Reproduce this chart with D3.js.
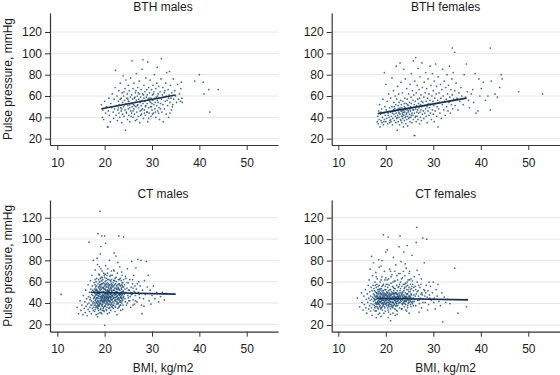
<!DOCTYPE html>
<html><head><meta charset="utf-8">
<script src="https://cdn.jsdelivr.net/npm/d3@7"></script>
<style>
html,body{margin:0;padding:0;background:#fff;}
svg{display:block;font-family:"Liberation Sans",Arial,Helvetica,sans-serif;}
</style></head>
<body><svg id="chart" width="560" height="375"></svg>
<script>
const panelTitles = ["BTH males", "BTH females", "CT males", "CT females"];
const xTicks = [10, 20, 30, 40, 50];
const yTicks = [20, 40, 60, 80, 100, 120];
const xTitle = "BMI, kg/m2";
const yTitle = "Pulse pressure, mmHg";

const bthMales = [
[19.3,52],[19.5,40],[19.6,47],[19.8,38],[20.0,55],[20.2,44],[20.4,50],[20.6,31],[20.8,46],[20.9,58],[21.0,42],[21.2,36],[21.3,53],[21.5,49],[21.6,62],[21.8,45],[21.9,39],[22.0,57],[22.1,48],[22.2,68],
[22.3,84],[22.4,42],[22.5,51],[22.6,60],[22.7,37],[22.8,47],[22.9,55],[23.0,65],[23.0,44],[23.1,52],[23.2,40],[23.3,72],[23.4,49],[23.5,58],[23.5,46],[23.6,35],[23.7,63],[23.8,54],[23.8,43],[23.9,79],[24.0,50],[24.0,60],[24.1,41],[24.2,56],[24.3,67],[24.3,47],[24.4,28],[24.5,53],[24.5,75],[24.6,45],[24.7,58],[24.8,38],[24.8,62],[24.9,51],[25.0,70],[25.0,48],[25.1,55],[25.1,42],[25.2,65],[25.3,52],[25.3,36],[25.4,59],[25.5,46],[25.5,77],[25.6,53],
[25.7,61],[25.7,44],[25.8,93],[25.8,50],[25.9,57],[26.0,40],[26.0,67],[26.1,52],[26.2,48],[26.2,72],[26.3,58],[26.3,43],[26.4,54],[26.5,63],[26.5,37],[26.6,50],[26.7,81],[26.7,56],[26.8,45],[26.9,60],[27.0,52],[27.0,68],[27.1,41],[27.2,57],[27.2,49],[27.3,74],[27.3,62],[27.4,35],[27.5,54],[27.5,46],[27.6,59],[27.7,66],[27.7,51],[27.8,43],[27.9,85],[27.9,56],[28.0,48],[28.0,62],[28.1,94],[28.1,53],[28.2,39],[28.3,58],[28.3,70],[28.4,47],[28.5,55],[28.5,64],[28.6,42],[28.7,51],[28.7,77],[28.8,59],[28.9,45],[29.0,61],[29.0,53],[29.1,92],[29.1,36],
[29.2,57],[29.3,49],[29.3,68],[29.4,44],[29.5,55],[29.5,63],[29.6,75],[29.7,50],[29.8,58],[29.8,41],[29.9,66],[30.0,53],[30.0,47],[30.1,61],[30.2,70],[30.2,56],[30.3,44],[30.4,52],[30.4,64],[30.5,80],[30.6,58],[30.6,48],[30.7,54],[30.8,67],[30.8,40],[30.9,59],[31.0,51],[31.0,72],[31.1,87],[31.1,56],[31.2,46],[31.3,62],[31.3,54],[31.4,69],[31.5,49],[31.5,58],[31.6,38],[31.7,64],[31.8,53],[31.9,76],[32.0,57],[32.0,95],[32.1,45],[32.2,61],[32.3,52],[32.3,68],[32.4,36],[32.5,59],[32.6,48],[32.7,65],[32.8,55],[32.9,72],[33.0,60],[33.0,43],[33.1,82],
[33.2,56],[33.3,51],[33.4,66],[33.5,40],[33.6,61],[33.7,83],[33.8,54],[33.9,70],[34.0,58],[34.1,47],[34.2,63],[34.4,52],[34.5,76],[34.6,57],[34.8,65],[35.0,60],[35.2,54],[35.4,71],[35.6,57],[35.8,62],[36.0,55],[36.1,67],[36.2,73],[36.3,58],[36.4,54],
[39.0,74],[40.0,80],[40.8,73],[41.0,62],[42.0,66],[44.0,66],[42.2,45],[20.7,31],
[23.6,48],[24.2,52],[24.6,44],[25.0,55],[25.3,49],[25.8,53],[26.0,46],[26.4,59],[26.9,51],[27.4,55],[27.8,47],[28.2,61],[28.6,50],[29.0,45],[29.4,58],[29.9,50],[30.3,62],[30.7,45],[31.2,60],[31.8,48],[24.9,57],[25.6,41],[26.6,65],[27.6,42],[28.9,66],[30.1,43],[22.9,49],[23.3,57],[26.3,51],[27.1,63],[28.4,44],[29.7,54],[31.4,44],[32.6,63],[33.5,58],[34.3,50],[24.1,64],[26.8,38],[29.3,39],[33.8,44]
];

const bthFemales = [
[18.2,36],[18.3,41],[18.4,34],[18.5,46],[18.6,38],[18.7,52],[18.8,31],[18.9,43],[19.0,37],[19.1,48],[19.2,35],[19.3,40],[19.4,57],[19.5,33],[19.6,44],[19.7,82],[19.7,38],[19.8,50],[19.9,42],[20.0,36],[20.0,71],[20.1,47],[20.2,39],[20.3,55],[20.4,34],[20.5,44],[20.6,62],[20.7,40],[20.8,49],[20.9,37],
[21.0,45],[21.0,58],[21.1,36],[21.2,41],[21.3,77],[21.3,50],[21.4,33],[21.5,46],[21.5,39],[21.6,65],[21.7,43],[21.7,54],[21.8,37],[21.9,48],[22.0,60],[22.0,41],[22.1,35],[22.1,52],[22.2,88],[22.2,44],[22.3,39],[22.3,57],[22.4,28],[22.4,47],[22.5,42],[22.5,69],[22.6,51],[22.6,36],[22.7,45],[22.7,62],[22.8,40],[22.8,54],[22.9,33],[22.9,48],[23.0,43],[23.0,91],[23.1,56],[23.1,38],[23.2,46],[23.2,73],[23.3,41],[23.3,52],[23.4,35],[23.4,49],[23.5,44],[23.5,63],[23.6,39],[23.6,55],[23.7,47],[23.7,31],[23.8,42],[23.8,85],[23.9,50],[23.9,37],[24.0,45],[24.0,58],[24.1,40],[24.1,76],[24.2,48],[24.2,34],[24.3,53],[24.3,43],[24.4,67],[24.4,38],[24.5,47],[24.5,57],[24.6,41],[24.6,32],[24.7,51],[24.7,45],
[24.8,62],[24.8,39],[24.9,48],[25.0,54],[25.0,43],[25.1,71],[25.1,36],[25.2,50],[25.2,46],[25.3,59],[25.3,40],[25.4,81],[25.4,53],[25.5,44],[25.5,35],[25.6,65],[25.6,49],[25.7,42],[25.7,56],[25.8,93],[25.8,38],[25.9,47],[25.9,61],[26.0,52],[26.0,44],[26.1,23],[26.1,74],[26.2,40],[26.2,55],[26.3,96],[26.3,48],[26.4,36],[26.4,63],[26.5,45],[26.5,51],[26.6,70],[26.6,41],[26.7,57],[26.7,47],[26.8,86],[26.8,38],[26.9,53],[26.9,44],[27.0,66],[27.0,49],[27.1,34],[27.1,58],[27.2,45],[27.2,78],[27.3,52],[27.3,40],[27.4,61],[27.4,47],[27.5,55],[27.5,37],[27.6,91],[27.6,50],[27.7,43],[27.7,68],[27.8,54],
[27.9,46],[28.0,59],[28.0,39],[28.1,73],[28.2,51],[28.2,44],[28.3,63],[28.4,48],[28.4,82],[28.5,55],[28.5,41],[28.6,67],[28.7,50],[28.7,35],[28.8,58],[28.9,46],[28.9,76],[29.0,53],[29.1,42],[29.1,62],[29.2,49],[29.3,88],[29.3,56],[29.4,44],[29.5,70],[29.5,52],[29.6,38],[29.7,60],[29.8,47],[29.8,81],[29.9,55],[30.0,43],[30.0,65],[30.1,51],[30.2,36],[30.2,74],[30.3,58],[30.4,46],[30.5,90],[30.5,53],[30.6,62],[30.7,41],[30.7,69],[30.8,50],[30.9,56],[31.0,31],[31.0,78],[31.1,48],[31.2,63],[31.3,54],[31.4,44],[31.5,71],[31.6,58],[31.7,39],[31.8,66],
[31.9,52],[32.0,85],[32.1,60],[32.2,47],[32.3,74],[32.4,55],[32.5,42],[32.6,68],[32.7,57],[32.8,50],[32.9,80],[33.0,62],[33.1,46],[33.2,70],[33.3,54],[33.4,88],[33.5,59],[33.6,44],[33.7,66],[33.8,52],[33.9,76],[34.0,61],[34.1,48],[34.2,82],[34.3,57],[34.5,65],[34.6,51],[34.8,72],[35.0,58],[35.2,47],[35.4,63],[35.6,55],[35.8,68],[36.0,60],[36.3,52],[36.5,80],[36.8,59],[37.0,90],[37.2,64],[37.4,56],[37.6,49],[38.0,62],[38.3,66],[38.5,54],[38.8,81],
[39.0,44],[39.4,46],[39.6,76],[39.8,60],[40.1,67],[40.5,73],[41.0,56],[41.5,60],[42.0,47],[42.2,74],[43.0,62],[43.5,59],[44.0,68],[44.3,80],[44.5,76],[48.0,64],[53.0,62],[34.0,105],[34.5,101],[42.0,105],[26.0,23],
[20.5,42],[21.0,38],[21.4,44],[21.8,50],[22.0,46],[22.4,40],[22.8,44],[23.0,49],[23.2,37],[23.5,41],[23.7,45],[23.9,53],[24.0,47],[24.2,41],[24.4,44],[24.6,52],[24.8,46],[25.0,40],[25.2,48],[25.4,42],[23.4,46],[23.6,43],[24.1,49],[22.6,48],[21.6,47],[20.8,35],[19.6,36],[19.0,45],[25.7,47],[26.3,41]
];

const ctMales = [
[14.2,36],[14.5,30],[14.8,42],[15.0,33],[15.2,38],[15.4,29],[15.5,47],[15.7,35],[15.8,41],[15.9,31],[16.0,52],[16.1,37],[16.2,44],[16.3,28],[16.4,39],[16.5,57],[16.5,34],[16.6,46],[16.7,40],[16.7,97],[16.8,32],[16.8,50],[16.9,43],[16.9,36],[17.0,61],[17.0,45],[17.1,38],[17.1,53],[17.2,30],[17.2,42],[17.3,48],[17.3,66],[17.4,35],[17.4,56],[17.5,40],[17.5,47],[17.6,33],[17.6,80],[17.7,51],[17.7,44],
[17.8,38],[17.8,59],[17.9,46],[17.9,32],[18.0,42],[18.0,71],[18.0,50],[18.1,36],[18.1,55],[18.2,44],[18.2,29],[18.3,48],[18.3,63],[18.4,40],[18.4,52],[18.5,35],[18.5,76],[18.5,45],[18.6,105],[18.6,58],[18.6,39],[18.7,47],[18.7,33],[18.8,54],[18.8,42],[18.8,67],[18.9,37],[18.9,49],[19.0,126],[19.0,44],[19.0,60],[19.0,31],[19.1,52],[19.1,40],[19.1,86],[19.2,46],[19.2,35],[19.2,57],[19.3,43],[19.3,64],[19.3,50],[19.4,38],[19.4,103],[19.4,55],[19.5,46],[19.5,33],[19.5,70],[19.5,41],
[17.9,53],[18.0,34],[18.1,47],[18.2,60],[18.3,41],[18.4,36],[18.5,51],[18.6,44],[18.7,62],[18.8,38],[18.9,56],[19.0,48],[19.1,34],[19.2,50],[19.3,39],[19.4,47],[19.5,58],[18.4,82],[18.9,74],[19.2,93],[18.2,48],[18.6,30],[19.0,53],[19.3,45],[19.4,61],[18.8,46],[18.1,43],[17.9,40],[18.3,37],[18.7,55],[19.1,42],[19.5,37],[18.5,27],[19.2,72],[18.9,66],[18.0,57],[18.3,52],[18.7,41],[19.1,63],[19.4,30],[18.6,49],[19.3,58],
[19.6,48],[19.6,62],[19.6,39],[19.7,44],[19.7,55],[19.7,35],[19.8,51],[19.8,68],[19.8,42],[19.9,46],[19.9,58],[19.9,32],[20.0,49],[20.0,103],[20.0,41],[20.0,64],[20.0,19],[20.1,53],[20.1,37],[20.1,45],[20.2,57],[20.2,96],[20.2,43],[20.2,75],[20.3,50],[20.3,34],[20.3,61],[20.4,46],[20.4,40],[20.4,55],[20.5,48],[20.5,66],[20.5,36],[20.5,52],[20.6,43],[20.6,59],[20.6,30],[20.7,49],[20.7,45],[20.7,72],[20.8,54],[20.8,39],[20.8,47],[20.9,62],[20.9,42],[20.9,51],[21.0,35],[21.0,57],[21.0,46],[21.0,80],[21.1,50],[21.1,41],[21.1,65],[21.2,44],[21.2,55],[21.2,38],[21.3,48],[21.3,60],[21.3,33],[21.4,52],[21.4,45],[21.4,70],[21.5,40],[21.5,56],[21.5,47],
[19.6,45],[19.7,50],[19.8,36],[19.9,53],[20.0,44],[20.1,60],[20.2,38],[20.3,47],[20.4,63],[20.5,41],[20.6,51],[20.7,38],[20.8,58],[20.9,45],[21.0,52],[21.1,36],[21.2,49],[21.3,43],[21.4,58],[21.5,51],[19.7,41],[19.9,66],[20.1,48],[20.3,42],[20.5,57],[20.7,52],[20.9,35],[21.1,46],[21.3,54],[21.5,37],[20.0,56],[20.4,50],[20.8,44],[21.2,61],[19.8,47],[20.6,46],[21.0,42],[20.2,52],[20.6,68],[21.4,39],[19.9,40],[20.3,55],[20.7,43],[21.1,57],[20.5,45],
[21.6,50],[21.6,43],[21.6,66],[21.7,55],[21.7,38],[21.8,48],[21.8,59],[21.9,45],[21.9,71],[22.0,52],[22.0,40],[22.0,87],[22.1,47],[22.1,57],[22.2,43],[22.2,63],[22.3,50],[22.3,36],[22.4,54],[22.4,84],[22.5,46],[22.5,60],[22.6,41],[22.6,51],[22.7,68],[22.7,47],[22.8,55],[22.8,39],[22.9,49],[22.9,62],[23.0,44],[23.0,103],[23.0,53],[23.1,58],[23.1,37],[23.2,48],[23.2,74],[23.3,42],[23.3,56],[23.4,50],[23.4,33],[23.5,61],[23.5,45],[23.6,53],[23.6,40],[23.7,66],[23.7,48],[23.8,55],[23.8,43],[23.9,59],[23.9,38],[24.0,102],[24.0,51],[24.0,46],
[21.7,46],[21.9,52],[22.1,42],[22.3,58],[22.5,49],[22.7,44],[22.9,54],[23.1,47],[23.3,63],[23.5,49],[23.7,42],[23.9,51],[22.0,70],[22.4,64],[22.8,78],[23.2,57],[23.6,69],[24.0,62],[21.8,35],[22.2,32],[22.6,29],[23.0,36],[23.4,41],[23.8,34],[22.1,50],[22.5,53],[22.9,45],[23.3,48],[23.7,56],[21.6,57],[22.3,45],[23.0,58],[23.6,47],[22.7,40],[21.9,61],[22.4,48],[23.1,52],[23.9,45],
[24.2,57],[24.3,44],[24.4,65],[24.5,50],[24.6,38],[24.7,54],[24.8,72],[24.9,47],[25.0,59],[25.1,42],[25.2,52],[25.3,62],[25.4,46],[25.5,36],[25.6,55],[25.7,79],[25.8,48],[25.9,58],[26.0,43],[26.1,66],[26.2,51],[26.3,39],[26.4,56],[26.5,47],[26.6,73],[26.7,53],[26.8,41],[27.0,81],[27.1,50],[27.2,60],[27.4,45],[27.5,56],[27.7,80],[27.8,38],[28.0,52],[28.2,44],[28.4,61],[28.6,48],[28.8,79],[29.0,55],[29.2,66],[29.4,42],[29.6,52],[30.0,47],[30.3,56],[30.6,44],[31.0,50],[31.4,41],[31.8,46],[32.2,50],[32.6,43],[33.0,49],[27.9,30],[28.3,37],[24.5,63],[25.0,45],[25.5,50],[26.0,54],[26.5,42],[27.3,48],[24.3,53],[24.8,40],[25.9,62],[26.9,58],[29.8,39],
[10.8,48],
[17.8,45],[17.9,49],[18.0,38],[18.1,52],[18.2,40],[18.3,45],[18.4,49],[18.5,42],[18.6,47],[18.7,37],[18.8,51],[18.9,40],[19.0,39],[19.1,46],[19.2,42],[19.3,53],[19.4,43],[19.5,50],[19.6,42],[19.7,47],[19.8,54],[19.9,43],[20.0,46],[20.1,42],[20.2,49],[20.3,39],[20.4,44],[20.5,50],[20.6,40],[20.7,55],[20.8,42],[20.9,48],[21.0,39],[21.1,53],[21.2,41],[21.3,46],[21.4,49],[21.5,43],[21.6,47],[21.7,41],[21.8,52],[21.9,38],[22.0,45],[22.1,54],[22.2,48],[22.3,42],[22.4,51],[22.5,39],[22.6,46],[22.7,53],[22.8,43],[22.9,40],[23.0,48],[23.1,43],[23.2,52],[23.3,38],[23.4,46],[23.5,54],[23.6,44],[23.7,51],
[17.5,52],[17.7,36],[18.0,62],[18.3,56],[18.6,35],[18.9,60],[19.2,31],[19.5,64],[19.8,33],[20.1,67],[20.4,33],[20.7,62],[21.0,31],[21.3,66],[21.6,36],[21.9,56],[22.2,37],[22.5,56],[22.8,35],[23.1,62],[23.4,38],[23.7,59],[24.1,48],[24.4,41],[24.7,59],[25.0,52],[25.3,42],[25.6,48],[26.0,38],[26.4,50],
[18.2,53],[18.5,38],[18.8,49],[19.1,55],[19.4,44],[19.7,59],[20.0,37],[20.3,58],[20.6,48],[20.9,56],[21.2,46],[21.5,62],[21.8,44],[22.1,61],[22.4,43],[22.7,57],[23.0,49],[23.3,45],[23.6,57],[24.0,55],[19.0,57],[19.6,54],[20.2,45],[20.8,51],[21.4,54],[22.0,49],[22.6,50],[23.2,41],[17.6,41],[17.3,38]
];

const ctFemales = [
[14.0,45],[14.5,37],[14.9,50],[15.0,41],[15.2,34],[15.4,47],[15.5,39],[15.7,53],[15.8,36],[15.9,44],[16.0,31],[16.1,49],[16.2,41],[16.3,57],[16.4,35],[16.4,45],[16.5,62],[16.6,38],[16.6,51],[16.7,43],[16.7,72],[16.8,33],[16.8,47],[16.9,55],[16.9,40],[17.0,84],[17.0,44],[17.0,36],[17.1,52],[17.1,29],[17.2,46],[17.2,66],[17.3,39],[17.3,57],[17.4,42],[17.4,49],[17.4,78],[17.5,34],[17.5,54],[17.5,45],
[17.6,48],[17.6,38],[17.7,60],[17.7,43],[17.8,51],[17.8,33],[17.9,46],[17.9,69],[18.0,40],[18.0,55],[18.0,27],[18.1,44],[18.1,50],[18.2,37],[18.2,63],[18.3,47],[18.3,42],[18.4,56],[18.4,35],[18.5,49],[18.5,81],[18.6,44],[18.6,39],[18.7,53],[18.7,31],[18.8,46],[18.8,60],[18.9,41],[18.9,50],[19.0,36],[19.0,75],[19.0,45],[19.1,54],[19.1,40],[19.2,48],[19.2,65],[19.3,43],[19.3,34],[19.4,52],[19.4,46],[19.5,104],[19.5,39],[19.5,58],[19.6,44],[19.6,50],[19.7,37],[19.7,70],[19.8,47],[19.8,42],[19.9,56],[19.9,33],[20.0,49],[20.0,88],
[17.6,52],[17.8,44],[18.0,47],[18.2,41],[18.4,45],[18.6,51],[18.8,38],[19.0,42],[19.2,37],[19.4,41],[19.6,47],[19.8,53],[20.0,40],[17.7,36],[17.9,41],[18.1,58],[18.3,36],[18.5,43],[18.7,47],[18.9,44],[19.1,49],[19.3,46],[19.5,43],[19.7,45],[19.9,43],[18.0,65],[18.6,74],[19.2,80],[19.8,62],[18.4,30],[19.0,28],[19.6,31],[18.2,49],[18.8,54],[19.4,57],[20.0,53],[17.8,57],[18.5,40],[19.1,36],[19.7,41],[19.3,50],[18.9,35],[18.3,53],[19.9,48],[18.1,39],[19.5,48],[18.7,42],
[20.1,44],[20.1,58],[20.2,38],[20.2,51],[20.3,46],[20.3,90],[20.4,41],[20.4,55],[20.5,48],[20.5,34],[20.5,102],[20.6,63],[20.6,43],[20.7,50],[20.7,37],[20.8,46],[20.8,72],[20.9,42],[20.9,53],[21.0,48],[21.0,30],[21.1,59],[21.1,44],[21.2,39],[21.2,51],[21.3,67],[21.3,46],[21.4,41],[21.4,56],[21.5,36],[21.5,49],[21.6,44],[21.6,83],[21.7,52],[21.7,40],[21.8,47],[21.8,61],[21.9,43],[21.9,35],[22.0,54],[22.0,46],[22.1,41],[22.1,76],[22.2,50],[22.2,38],[22.3,57],[22.3,44],[22.4,48],[22.4,33],[22.5,62],[22.5,42],
[20.1,40],[20.3,50],[20.5,45],[20.7,43],[20.9,47],[21.1,37],[21.3,42],[21.5,46],[21.7,44],[21.9,49],[22.1,45],[22.3,40],[22.5,47],[20.2,47],[20.4,36],[20.6,52],[20.8,40],[21.0,45],[21.2,48],[21.4,37],[21.6,50],[21.8,39],[22.0,43],[22.2,46],[22.4,52],[20.3,62],[20.7,57],[21.1,65],[21.5,60],[21.9,70],[22.3,66],[20.5,27],[21.0,24],[21.5,31],[22.0,29],[20.6,41],[21.0,53],[21.4,45],[21.8,54],[22.2,42],[20.2,43],[20.8,49],[21.3,38],[21.7,47],[22.1,50],[22.5,38],[20.4,47],[20.9,39],[21.6,41],[22.4,44],
[22.6,46],[22.6,55],[22.7,40],[22.7,68],[22.8,50],[22.8,93],[22.9,44],[22.9,36],[23.0,103],[23.0,52],[23.1,47],[23.1,60],[23.2,42],[23.2,79],[23.3,49],[23.3,35],[23.4,56],[23.4,44],[23.5,64],[23.5,39],[23.6,51],[23.6,46],[23.7,58],[23.7,41],[23.8,88],[23.8,48],[23.9,37],[23.9,54],[24.0,45],[24.0,66],[24.1,42],[24.1,50],[24.2,59],[24.2,34],[24.3,47],[24.3,73],[24.4,43],[24.4,53],[24.5,94],[24.5,49],[24.6,38],[24.6,57],[24.7,45],[24.7,62],[24.8,41],[24.8,51],[24.9,55],[24.9,31],[25.0,47],[25.0,70],[25.1,43],[25.2,58],[25.3,49],[25.3,37],[25.4,54],[25.5,85],[25.5,45],[25.6,61],[25.7,42],[25.8,52],[25.9,48],[26.0,65],
[22.6,43],[22.8,47],[23.0,41],[23.2,45],[23.4,40],[23.6,43],[23.8,45],[24.0,40],[24.2,46],[24.4,49],[24.6,44],[24.8,47],[25.0,41],[25.2,46],[25.4,44],[25.6,40],[25.8,45],[26.0,42],[23.1,54],[23.5,50],[23.9,47],[24.3,56],[24.7,53],[25.1,51],[25.5,56],[25.9,55],[22.9,58],[23.3,63],[23.7,70],[24.1,77],[24.5,60],[24.9,68],[25.3,63],[25.7,58],
[26.1,44],[26.2,56],[26.3,38],[26.4,97],[26.4,49],[26.5,111],[26.6,60],[26.7,43],[26.8,52],[26.9,47],[27.0,67],[27.1,40],[27.2,55],[27.3,45],[27.4,58],[27.5,36],[27.6,50],[27.8,101],[27.9,44],[28.0,53],[28.1,78],[28.2,47],[28.3,41],[28.5,57],[28.6,100],[28.7,46],[28.9,52],[29.0,39],[29.2,48],[29.4,56],[29.6,43],[29.8,50],[30.0,60],[30.2,45],[30.4,35],[30.6,53],[30.8,47],[31.0,58],[31.2,42],[31.5,38],[31.8,50],[32.0,23],[32.3,46],[32.6,41],[33.0,44],[33.5,40],[34.5,73],[35.2,31],[37.0,37],[37.1,44],[26.3,53],[26.9,57],[27.7,48],[28.4,50],[29.3,45],[30.1,41],[27.0,32],[28.8,34],[26.6,71],[27.5,63],[29.1,60],
[17.6,44],[17.8,40],[18.0,50],[18.2,45],[18.4,51],[18.6,41],[18.8,49],[19.0,52],[19.2,44],[19.4,38],[19.6,40],[19.8,45],[20.0,44],[20.2,41],[20.4,50],[20.6,38],[20.8,44],[21.0,41],[21.2,44],[21.4,50],[21.6,38],[21.8,43],[22.0,50],[22.2,40],[22.4,46],[22.6,49],[22.8,41],[23.0,46],[23.2,50],[23.4,48],[23.6,40],[23.8,52],[24.0,43],[24.2,39],[24.4,46],[24.6,49],[24.8,43],[25.0,45],[25.2,39],[25.4,48],
[17.7,47],[17.9,37],[18.1,47],[18.3,40],[18.5,53],[18.7,37],[18.9,47],[19.1,43],[19.3,40],[19.5,52],[19.7,49],[19.9,39],[20.1,48],[20.3,44],[20.5,39],[20.7,47],[20.9,44],[21.1,49],[21.3,44],[21.5,41],[21.7,49],[21.9,45],[22.1,38],[22.3,49],[22.5,44],[22.7,46],[22.9,48],[23.1,43],[23.3,44],[23.5,47],[23.7,45],[23.9,42],[24.1,46],[24.3,42],[24.5,45],[24.7,40],[24.9,45],[25.1,47],[25.3,42],[25.5,41],
[18.0,33],[18.6,57],[19.2,56],[19.8,36],[20.4,58],[21.0,35],[21.6,55],[22.2,34],[22.8,56],[23.4,35],[24.0,55],[24.6,36],[25.2,53],[25.8,38],[26.2,47],[26.6,51],[27.0,43],[27.4,49],[27.8,41],[28.2,52],[19.0,62],[20.0,64],[21.0,70],[22.0,61],[23.0,68],[24.0,58],[25.0,62],[20.6,32],[22.4,30],[24.4,33]
];

const bthMalesFit = [[19.3,48.0],[35.0,61.0]];
const bthFemalesFit = [[18.3,43.5],[37.0,58.0]];
const ctMalesFit = [[17.0,50.0],[35.0,48.3]];
const ctFemalesFit = [[18.1,45.0],[37.3,43.4]];

const panelData = [bthMales, bthFemales, ctMales, ctFemales];
const panelFits = [bthMalesFit, bthFemalesFit, ctMalesFit, ctFemalesFit];

// layout (pixels)
const layout = [
  {L:50, R:278, x10:57.3, x50:246.7, yB:145, yT:13, y20:138.7, y120:32, tx:163, ty:11, showY:true, showX:false},
  {L:331.7, R:560, x10:338.3, x50:528.3, yB:145, yT:13, y20:138.7, y120:32, tx:445.7, ty:11, showY:false, showX:false},
  {L:50, R:278, x10:57.3, x50:246.7, yB:331.7, yT:200, y20:324.3, y120:217.7, tx:163, ty:198, showY:true, showX:true},
  {L:331.7, R:560, x10:338.3, x50:528.3, yB:331.7, yT:200, y20:325, y120:217.7, tx:445.7, ty:198, showY:false, showX:true}
];

const svg = d3.select("#chart");
const dotColor = "#1f4e79";
const lineColor = "#1a2f4d";

layout.forEach((p, i) => {
  const x0 = d3.scaleLinear().domain([xTicks[0], xTicks[xTicks.length-1]]).range([p.x10, p.x50]);
  const x = d3.scaleLinear().domain([x0.invert(p.L), x0.invert(p.R)]).range([p.L, p.R]);
  const y0 = d3.scaleLinear().domain([yTicks[0], yTicks[yTicks.length-1]]).range([p.y20, p.y120]);
  const y = d3.scaleLinear().domain([y0.invert(p.yB), y0.invert(p.yT)]).range([p.yB, p.yT]);
  const g = svg.append("g");

  g.append("g").selectAll("line").data(yTicks).join("line")
    .attr("x1", p.L).attr("x2", p.R)
    .attr("y1", d => y(d)).attr("y2", d => y(d))
    .attr("stroke", "#e6e6e6").attr("stroke-width", 1);

  g.append("g").selectAll("circle").data(panelData[i]).join("circle")
    .attr("cx", d => x(d[0])).attr("cy", d => y(d[1]))
    .attr("r", 0.85).attr("fill", dotColor).attr("fill-opacity", 0.85);

  g.append("path").datum(panelFits[i])
    .attr("d", d3.line().x(d => x(d[0])).y(d => y(d[1])))
    .attr("fill", "none").attr("stroke", lineColor).attr("stroke-width", 1.6);

  const xAxis = g.append("g").attr("transform", `translate(0,${p.yB})`)
    .call(d3.axisBottom(x).tickValues(xTicks).tickSize(5).tickSizeOuter(0).tickPadding(8));
  const yAxis = g.append("g").attr("transform", `translate(${p.L},0)`)
    .call(d3.axisLeft(y).tickValues(yTicks).tickSize(5).tickSizeOuter(0).tickPadding(3));
  [xAxis, yAxis].forEach(a => {
    a.selectAll("path").attr("stroke", "#333").attr("stroke-width", 1.2);
    a.selectAll("line").attr("stroke", "#333");
    a.selectAll("text").attr("fill", "#1a1a1a").style("font-size", "12px")
      .style("font-family", '"Liberation Sans",Arial,sans-serif');
  });

  g.append("text").attr("x", p.tx).attr("y", p.ty).attr("text-anchor", "middle")
    .style("font-size", "12px").attr("fill", "#1a1a1a").text(panelTitles[i]);

  if (p.showY) {
    g.append("text")
      .attr("transform", `translate(12,${(p.yB + p.yT) / 2}) rotate(-90)`)
      .attr("text-anchor", "middle")
      .style("font-size", "12px").attr("fill", "#1a1a1a").text(yTitle);
  }
  if (p.showX) {
    g.append("text").attr("x", p.tx).attr("y", 372).attr("text-anchor", "middle")
      .style("font-size", "12px").attr("fill", "#1a1a1a").text(xTitle);
  }
});
</script>
</body></html>
